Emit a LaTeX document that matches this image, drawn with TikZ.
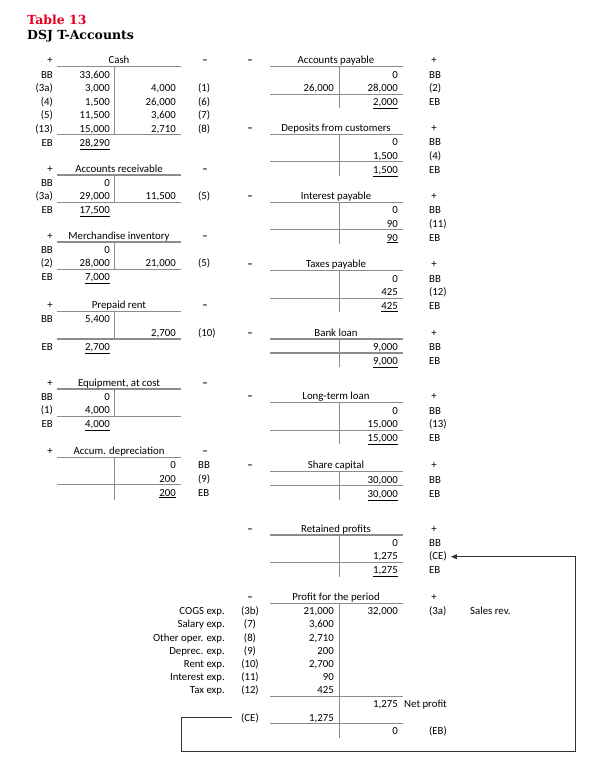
\documentclass[tikz,border=0pt]{standalone}
\usepackage{fontspec}
\setmainfont{Carlito}
\newfontfamily\titlefont{DejaVu Serif}
\usetikzlibrary{arrows.meta}
\definecolor{tred}{RGB}{232,0,35}
\definecolor{tgray}{RGB}{140,140,140}
\newcommand\TLeft[3]{\draw[tline] (57,#1) -- (181,#1); \draw[tline] (57,#2) -- (181,#2); \draw[tline] (114.5,#1) -- (114.5,#3);}
\newcommand\TRight[3]{\draw[tline] (270,#1) -- (402.5,#1); \draw[tline] (270,#2) -- (402.5,#2); \draw[tline] (339.5,#1) -- (339.5,#3);}
\newcommand\mdash{{\bfseries –}}
\begin{document}
\begin{tikzpicture}[x=1pt,y=-1pt,
  every node/.style={inner sep=0pt, font=\fontsize{10.8}{13}\selectfont},
  re/.style={anchor=base east},
  le/.style={anchor=base west},
  ce/.style={anchor=base},
  ttl/.style={anchor=base west, font=\titlefont\bfseries\fontsize{12.5}{14}\selectfont},
  tline/.style={draw=tgray, line width=1.2pt},
  conn/.style={draw=black!80, line width=1pt}]
\useasboundingbox (0,0) rectangle (597,782);

\node[ttl, text=tred] (t1) at (27,24) {Table 13};
\node[ttl] (t2) at (27,39.5) {DSJ T-Accounts};

% ---------- Cash
\node[ce] (cash) at (119,63.9) {Cash};
\node[ce] (cashp) at (50,63.9) {+};
\node[ce] (cashm) at (205,63.9) {\mdash};
\node[re] (cash-l1) at (53,78.1) {BB}; \node[re] (cash-v1) at (110,78.1) {33,600};
\node[re] (cash-l2) at (53,91.6) {(3a)}; \node[re] (cash-v2) at (110,91.6) {3,000}; \node[re] (cash-w2) at (176,91.6) {4,000}; \node[le] (cash-r2) at (198,91.6) {(1)};
\node[re] (cash-l3) at (53,105.1) {(4)}; \node[re] (cash-v3) at (110,105.1) {1,500}; \node[re] (cash-w3) at (176,105.1) {26,000}; \node[le] (cash-r3) at (198,105.1) {(6)};
\node[re] (cash-l4) at (53,118.6) {(5)}; \node[re] (cash-v4) at (110,118.6) {11,500}; \node[re] (cash-w4) at (176,118.6) {3,600}; \node[le] (cash-r4) at (198,118.6) {(7)};
\node[re] (cash-l5) at (53,132.1) {(13)}; \node[re] (cash-v5) at (110,132.1) {15,000}; \node[re] (cash-w5) at (176,132.1) {2,710}; \node[le] (cash-r5) at (198,132.1) {(8)};
\node[re] (cash-l6) at (53,146) {EB}; \node[re] (cash-v6) at (110,146) {\underline{28,290}};
\TLeft{66.7}{134.7}{134.7}

% ---------- Accounts receivable
\node[ce] (ar) at (119,172.2) {Accounts receivable};
\node[ce] (arp) at (50,172.2) {+};
\node[ce] (arm) at (205,172.2) {\mdash};
\node[re] (ar-l1) at (53,186.4) {BB}; \node[re] (ar-v1) at (110,186.4) {0};
\node[re] (ar-l2) at (53,199.9) {(3a)}; \node[re] (ar-v2) at (110,199.9) {29,000}; \node[re] (ar-w2) at (176,199.9) {11,500}; \node[le] (ar-r2) at (198,199.9) {(5)};
\node[re] (ar-l3) at (53,213.8) {EB}; \node[re] (ar-v3) at (110,213.8) {\underline{17,500}};
\TLeft{175}{202.5}{202.5}

% ---------- Merchandise inventory
\node[ce] (mi) at (119,239.2) {Merchandise inventory};
\node[ce] (mip) at (50,239.2) {+};
\node[ce] (mim) at (205,239.2) {\mdash};
\node[re] (mi-l1) at (53,253.4) {BB}; \node[re] (mi-v1) at (110,253.4) {0};
\node[re] (mi-l2) at (53,266.9) {(2)}; \node[re] (mi-v2) at (110,266.9) {28,000}; \node[re] (mi-w2) at (176,266.9) {21,000}; \node[le] (mi-r2) at (198,266.9) {(5)};
\node[re] (mi-l3) at (53,280.8) {EB}; \node[re] (mi-v3) at (110,280.8) {\underline{7,000}};
\TLeft{242}{269.5}{269.5}

% ---------- Prepaid rent
\node[ce] (pr) at (119,308.7) {Prepaid rent};
\node[ce] (prp) at (50,308.7) {+};
\node[ce] (prm) at (205,308.7) {\mdash};
\node[re] (pr-l1) at (53,322.9) {BB}; \node[re] (pr-v1) at (110,322.9) {5,400};
\node[re] (pr-w2) at (176,336.4) {2,700}; \node[le] (pr-r2) at (198,336.4) {(10)};
\node[re] (pr-l3) at (53,350.3) {EB}; \node[re] (pr-v3) at (110,350.3) {\underline{2,700}};
\TLeft{311.5}{339}{339}

% ---------- Equipment, at cost
\node[ce] (eq) at (119,386.2) {Equipment, at cost};
\node[ce] (eqp) at (50,386.2) {+};
\node[ce] (eqm) at (205,386.2) {\mdash};
\node[re] (eq-l1) at (53,400.4) {BB}; \node[re] (eq-v1) at (110,400.4) {0};
\node[re] (eq-l2) at (53,413.9) {(1)}; \node[re] (eq-v2) at (110,413.9) {4,000};
\node[re] (eq-l3) at (53,427.8) {EB}; \node[re] (eq-v3) at (110,427.8) {\underline{4,000}};
\TLeft{389}{416.5}{416.5}

% ---------- Accum. depreciation
\node[ce] (ad) at (119,454.5) {Accum. depreciation};
\node[ce] (adp) at (50,454.5) {+};
\node[ce] (adm) at (205,454.5) {\mdash};
\node[re] (ad-w1) at (176,468.7) {0}; \node[le] (ad-r1) at (198,468.7) {BB};
\node[re] (ad-w2) at (176,482.2) {200}; \node[le] (ad-r2) at (198,482.2) {(9)};
\node[re] (ad-w3) at (176,496.1) {\underline{200}}; \node[le] (ad-r3) at (198,496.1) {EB};
\TLeft{457.3}{484.8}{499.5}

% ---------- Accounts payable
\node[ce] (ap) at (336,63.9) {Accounts payable};
\node[ce] (apm) at (250,63.9) {\mdash};
\node[ce] (app) at (434,63.9) {+};
\node[re] (ap-w1) at (398,78.1) {0}; \node[le] (ap-r1) at (429,78.1) {BB};
\node[re] (ap-v2) at (334,91.6) {26,000}; \node[re] (ap-w2) at (398,91.6) {28,000}; \node[le] (ap-r2) at (429,91.6) {(2)};
\node[re] (ap-w3) at (398,105.5) {\underline{2,000}}; \node[le] (ap-r3) at (429,105.5) {EB};
\TRight{66.7}{94.2}{108}

% ---------- Deposits from customers
\node[ce] (dc) at (336,131.5) {Deposits from customers};
\node[ce] (dcm) at (250,131.5) {\mdash};
\node[ce] (dcp) at (434,131.5) {+};
\node[re] (dc-w1) at (398,145.7) {0}; \node[le] (dc-r1) at (429,145.7) {BB};
\node[re] (dc-w2) at (398,159.2) {1,500}; \node[le] (dc-r2) at (429,159.2) {(4)};
\node[re] (dc-w3) at (398,173.1) {\underline{1,500}}; \node[le] (dc-r3) at (429,173.1) {EB};
\TRight{134.3}{161.8}{175.7}

% ---------- Interest payable
\node[ce] (ip) at (336,199.5) {Interest payable};
\node[ce] (ipm) at (250,199.5) {\mdash};
\node[ce] (ipp) at (434,199.5) {+};
\node[re] (ip-w1) at (398,213.7) {0}; \node[le] (ip-r1) at (429,213.7) {BB};
\node[re] (ip-w2) at (398,227.2) {90}; \node[le] (ip-r2) at (429,227.2) {(11)};
\node[re] (ip-w3) at (398,241.1) {\underline{90}}; \node[le] (ip-r3) at (429,241.1) {EB};
\TRight{202.3}{229.8}{243.7}

% ---------- Taxes payable
\node[ce] (tp) at (336,267.9) {Taxes payable};
\node[ce] (tpm) at (250,267.9) {\mdash};
\node[ce] (tpp) at (434,267.9) {+};
\node[re] (tp-w1) at (398,282.1) {0}; \node[le] (tp-r1) at (429,282.1) {BB};
\node[re] (tp-w2) at (398,295.6) {425}; \node[le] (tp-r2) at (429,295.6) {(12)};
\node[re] (tp-w3) at (398,309.5) {\underline{425}}; \node[le] (tp-r3) at (429,309.5) {EB};
\TRight{270.7}{298.2}{312.1}

% ---------- Bank loan
\node[ce] (bl) at (336,336.2) {Bank loan};
\node[ce] (blm) at (250,336.2) {\mdash};
\node[ce] (blp) at (434,336.2) {+};
\node[re] (bl-w1) at (398,350.4) {9,000}; \node[le] (bl-r1) at (429,350.4) {BB};
\node[re] (bl-w2) at (398,364.3) {\underline{9,000}}; \node[le] (bl-r2) at (429,364.3) {EB};
\TRight{339}{353}{367}

% ---------- Long-term loan
\node[ce] (ll) at (336,399.9) {Long-term loan};
\node[ce] (llm) at (250,399.9) {\mdash};
\node[ce] (llp) at (434,399.9) {+};
\node[re] (ll-w1) at (398,414.1) {0}; \node[le] (ll-r1) at (429,414.1) {BB};
\node[re] (ll-w2) at (398,427.6) {15,000}; \node[le] (ll-r2) at (429,427.6) {(13)};
\node[re] (ll-w3) at (398,441.5) {\underline{15,000}}; \node[le] (ll-r3) at (429,441.5) {EB};
\TRight{402.7}{430.2}{444}

% ---------- Share capital
\node[ce] (sc) at (336,468.9) {Share capital};
\node[ce] (scm) at (250,468.9) {\mdash};
\node[ce] (scp) at (434,468.9) {+};
\node[re] (sc-w1) at (398,483.1) {30,000}; \node[le] (sc-r1) at (429,483.1) {BB};
\node[re] (sc-w2) at (398,497) {\underline{30,000}}; \node[le] (sc-r2) at (429,497) {EB};
\TRight{471.7}{485.7}{500}

% ---------- Retained profits
\node[ce] (rp) at (336,532.2) {Retained profits};
\node[ce] (rpm) at (250,532.2) {\mdash};
\node[ce] (rpp) at (434,532.2) {+};
\node[re] (rp-w1) at (398,546.4) {0}; \node[le] (rp-r1) at (429,546.4) {BB};
\node[re] (rp-w2) at (398,559.9) {1,275}; \node[le] (rce) at (429,559.9) {(CE)};
\node[re] (rp-w3) at (398,573.8) {\underline{1,275}}; \node[le] (rp-r3) at (429,573.8) {EB};
\TRight{535}{562.5}{577}

% ---------- Profit for the period
\node[ce] (pp) at (336,600.5) {Profit for the period};
\node[ce] (ppm) at (250,600.5) {\mdash};
\node[ce] (ppp) at (434,600.5) {+};
\node[re] (pp-n1) at (225,614.7) {COGS exp.}; \node[ce] (pp-l1) at (250,614.7) {(3b)}; \node[re] (pp-v1) at (334,614.7) {21,000};
\node[re] (pp-w1) at (398,614.7) {32,000}; \node[le] (pp-r1) at (429,614.7) {(3a)}; \node[le] (pp-s1) at (470,614.7) {Sales rev.};
\node[re] (pp-n2) at (225,627.9) {Salary exp.}; \node[ce] (pp-l2) at (250,627.9) {(7)}; \node[re] (pp-v2) at (334,627.9) {3,600};
\node[re] (pp-n3) at (225,641.1) {Other oper. exp.}; \node[ce] (pp-l3) at (250,641.1) {(8)}; \node[re] (pp-v3) at (334,641.1) {2,710};
\node[re] (pp-n4) at (225,654.3) {Deprec. exp.}; \node[ce] (pp-l4) at (250,654.3) {(9)}; \node[re] (pp-v4) at (334,654.3) {200};
\node[re] (pp-n5) at (225,667.5) {Rent exp.}; \node[ce] (pp-l5) at (250,667.5) {(10)}; \node[re] (pp-v5) at (334,667.5) {2,700};
\node[re] (pp-n6) at (225,680.7) {Interest exp.}; \node[ce] (pp-l6) at (250,680.7) {(11)}; \node[re] (pp-v6) at (334,680.7) {90};
\node[re] (pp-n7) at (225,693.9) {Tax exp.}; \node[ce] (pp-l7) at (250,693.9) {(12)}; \node[re] (pp-v7) at (334,693.9) {425};
\node[re] (pp-w8) at (398,707.8) {1,275}; \node[le] (pp-s8) at (404,707.8) {Net profit};
\node[ce] (pce) at (250,721) {(CE)}; \node[re] (pp-v9) at (334,721) {1,275};
\node[re] (pp-w10) at (398,734.9) {0}; \node[le] (pp-r10) at (429,734.9) {(EB)};
\draw[tline] (270,603.3) -- (402.5,603.3);
\draw[tline] (270,696.5) -- (402.5,696.5);
\draw[tline] (270,723.6) -- (402.5,723.6);
\draw[tline] (339.5,603.3) -- (339.5,737.5);

% ---------- closing entry connector
\coordinate (k1) at (181,751);
\coordinate (k2) at (575,751);
\draw[conn,-{Triangle[length=6pt,width=5pt]}] ([xshift=-9pt]pce.west) -| (k1) -- (k2) |- ([xshift=4pt]rce.east);
\end{tikzpicture}
\end{document}
